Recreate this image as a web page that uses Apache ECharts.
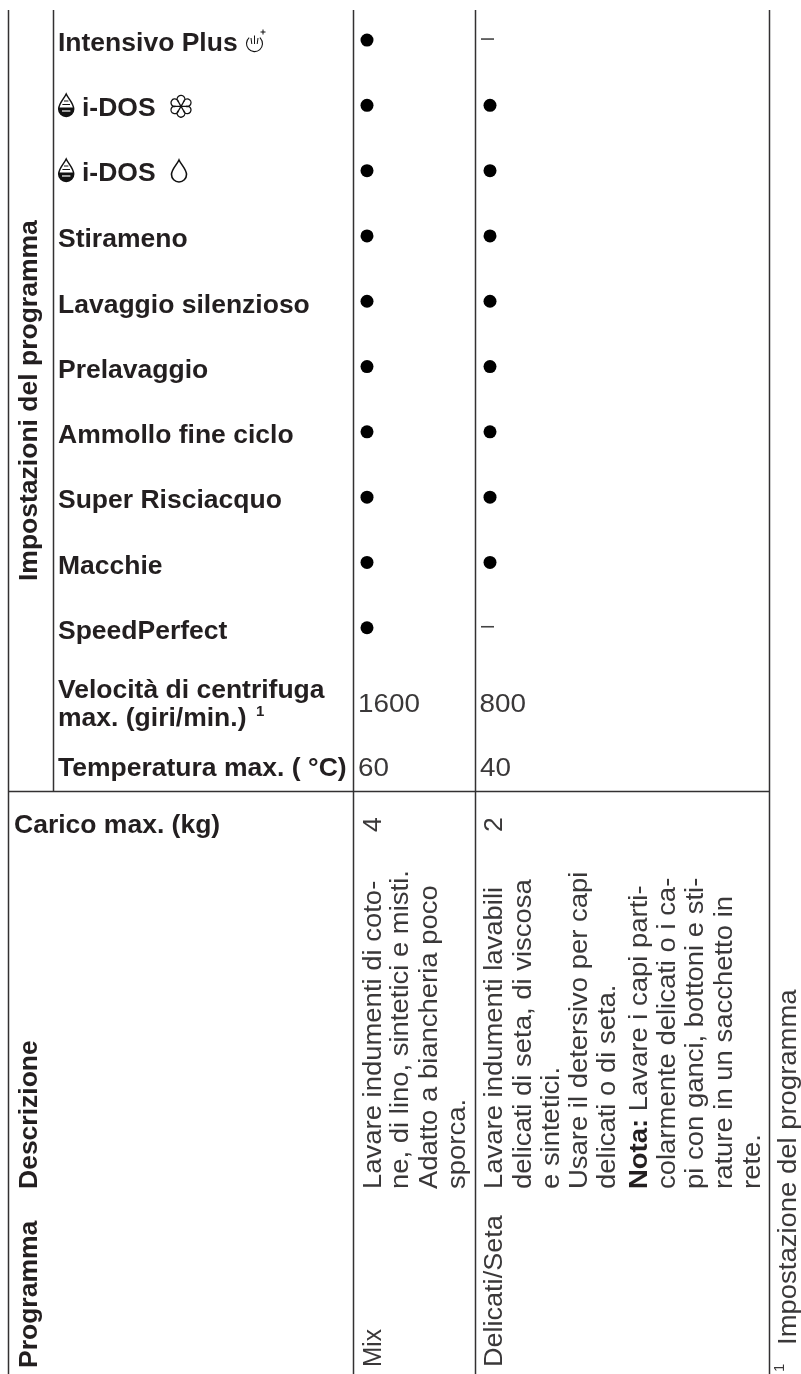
<!DOCTYPE html>
<html><head><meta charset="utf-8">
<style>html,body{margin:0;padding:0;background:#fff}#c{width:801px;height:1374px}</style>
<script src="https://cdn.jsdelivr.net/npm/echarts@6/dist/echarts.min.js"></script>
</head><body><div id="c"></div>
<script>
const settingNames = ['Intensivo Plus','i-DOS','i-DOS','Stirameno','Lavaggio silenzioso','Prelavaggio','Ammollo fine ciclo','Super Risciacquo','Macchie','SpeedPerfect'];
const programs = ['Mix','Delicati/Seta'];
const mixAvailable = [1,1,1,1,1,1,1,1,1,1];
const silkAvailable = [0,1,1,1,1,1,1,1,1,0];
const spinMax = ['1600','800'];
const tempMax = ['60','40'];
const loadMax = ['4','2'];
const mixDescription = ['Lavare indumenti di coto-','ne, di lino, sintetici e misti.','Adatto a biancheria poco','sporca.'];
const silkDescription = ['Lavare indumenti lavabili','delicati di seta, di viscosa','e sintetici.','Usare il detersivo per capi','delicati o di seta.','{b|Nota:} Lavare i capi parti-','colarmente delicati o i ca-','pi con ganci, bottoni e sti-','rature in un sacchetto in','rete.'];
const footnote = 'Impostazione del programma';

const FONT='"Liberation Sans"', INK='#231f20', TXT='#3a3839', LINE='#333132', FS=26.5, UP=0.26, RUP=0.31, WIDE=1.036, DIGIT=1.05;
const g=[];
function vline(x,y1,y2){g.push({type:'line',shape:{x1:x,y1:y1,x2:x,y2:y2},style:{stroke:LINE,lineWidth:1.5},silent:true});}
vline(8.5,10,1374);vline(53.5,10,791);vline(353.5,10,1374);vline(475.5,10,1374);vline(769.5,10,1374);
g.push({type:'line',shape:{x1:8,y1:791.5,x2:770,y2:791.5},style:{stroke:LINE,lineWidth:1.6},silent:true});
function ht(t,x,base,bold,size,sx){size=size||FS;
  g.push({type:'text',x:x,y:base-UP*size,scaleX:sx||1,style:{text:t,font:(bold?'bold ':'')+size+'px '+FONT,fill:bold?INK:TXT,align:'left',verticalAlign:'middle',textAlign:'left',textVerticalAlign:'middle'},silent:true});}
function rt(t,base,yStart,bold,size,sx){size=size||FS;
  g.push({type:'text',x:base-RUP*size,y:yStart,rotation:Math.PI/2,scaleX:sx||1,style:{text:t,font:(bold?'bold ':'')+size+'px '+FONT,fill:bold?INK:TXT,align:'left',verticalAlign:'middle',textAlign:'left',textVerticalAlign:'middle',rich:{b:{font:'bold '+size+'px '+FONT,fill:INK}}},silent:true});}
rt('Impostazioni del programma',38,581,true);
ht('Velocità di centrifuga',58,698,true);
ht('max. (giri/min.)',58,726,true);
ht('1',256,716,true,15);
ht('Temperatura max. (\u2009\u200a°C)',58,776,true);
ht('Carico max. (kg)',14,833,true);
rt('Programma',38,1368,true);
rt('Descrizione',38,1189,true);
ht(spinMax[0],358,712,false,FS,DIGIT);ht(spinMax[1],479.5,712,false,FS,DIGIT);
ht(tempMax[0],358,776,false,FS,DIGIT);ht(tempMax[1],480,776,false,FS,DIGIT);
rt(loadMax[0],382,832);rt(loadMax[1],503,832);
rt(programs[0],382,1367,false,FS,.92);rt(programs[1],503,1367,false,FS,1.02);
const mixBases=[382,409,438,466], silkBases=[503,532,560,588,616,648,676,704,733,761];
mixDescription.forEach((t,i)=>rt(t,mixBases[i],1189,false,FS,WIDE));
silkDescription.forEach((t,i)=>rt(t,silkBases[i],1189,false,FS,WIDE));
rt(footnote,797,1345,false,FS,WIDE);
rt('1',785,1372,false,15);

function dropPath(x,y,w,h){const c=x+w/2,r=w/2,m=y+h-r;
 return `M${c} ${y}C${c-2} ${y+h*.2} ${x} ${y+h*.42} ${x} ${m}A${r} ${r} 0 0 0 ${x+w} ${m}C${x+w} ${y+h*.42} ${c+2} ${y+h*.2} ${c} ${y}Z`;}
function bowlPath(x,y,w,h,cut){const c=x+w/2,r=w/2,m=y+h-r;
 return `M${x} ${cut}L${x+w} ${cut}L${x+w} ${m}A${r} ${r} 0 0 1 ${x} ${m}Z`;}
function flower(cx,cy){const R=4.9,r=3.8;let d='';const pt=(a)=>[(cx+R*Math.cos(a)).toFixed(2),(cy+R*Math.sin(a)).toFixed(2)];
 for(let i=0;i<6;i++){const a=-Math.PI/3-Math.PI/3*i, b=a-Math.PI/3,p=pt(a),q=pt(b);
  d+=`M${cx} ${cy}L${p[0]} ${p[1]}A${r} ${r} 0 1 0 ${q[0]} ${q[1]}`;}
 return d;}
const marks=[];
[94,159].forEach(y=>{
 marks.push({d:dropPath(58.7,y,15,22.5),fill:'#fff',lw:1.5});
 marks.push({d:bowlPath(58.7,y,15,22.5,y+13.5),fill:'#111'});
 marks.push({d:`M64 ${y+7}H68.4M62.4 ${y+10.5}H70`,lw:1});
 marks.push({d:`M62 ${y+17}H70.4`,lw:1.2,stroke:'#fff'});
});
marks.push({d:flower(181,106.3),lw:1.3});
marks.push({d:dropPath(171.5,160,15,22),lw:1.6,fill:'#fff'});
marks.push({d:'M249.2 37.6A8 8 0 1 0 259.8 37.6',lw:1.1});
marks.push({d:'M251 38L251.8 44M254.5 35.5V44M258 38L257.2 44',lw:1});
marks.push({d:'M260.5 32H265.5M263 29.5V34.5',lw:1});
marks.forEach((k,i)=>{
 echarts.graphic.registerShape('mark'+i,echarts.graphic.extendPath(k.d));
 g.push({type:'mark'+i,silent:true,style:{fill:k.fill||'none',stroke:k.lw?(k.stroke||'#111'):null,lineWidth:k.lw||0}});
});

const chart=echarts.init(document.getElementById('c'),null,{renderer:'canvas'});
const dots=[],dashes=[];
[mixAvailable,silkAvailable].forEach((col,c)=>col.forEach((v,r)=>(v?dots:dashes).push([c,r])));
chart.setOption({animation:false,backgroundColor:'#fff',
 grid:{left:305.5,top:7.4,width:246,height:653},
 xAxis:{type:'category',data:programs,axisLine:{show:false},axisTick:{show:false},axisLabel:{show:false},splitLine:{show:false}},
 yAxis:{type:'category',inverse:true,data:settingNames,axisLine:{show:false},axisTick:{show:false},splitLine:{show:false},
  axisLabel:{interval:0,align:'left',margin:247.5,padding:[8,0,0,0],color:INK,fontFamily:FONT,fontWeight:'bold',fontSize:FS,
   formatter:v=>v==='i-DOS'?'{gap|}{b|'+v+'}':v,
   rich:{gap:{width:24},b:{color:INK,fontFamily:FONT,fontWeight:'bold',fontSize:FS,padding:[0,0,2,0]}}}},
 series:[
  {type:'scatter',data:dots,symbol:'circle',symbolSize:13,itemStyle:{color:'#000',opacity:1},silent:true},
  {type:'scatter',data:dashes,symbol:'rect',symbolSize:[13,1.6],symbolOffset:[-2.5,-1],itemStyle:{color:'#444',opacity:1},silent:true}
 ],
 graphic:{elements:g}
});
</script></body></html>
